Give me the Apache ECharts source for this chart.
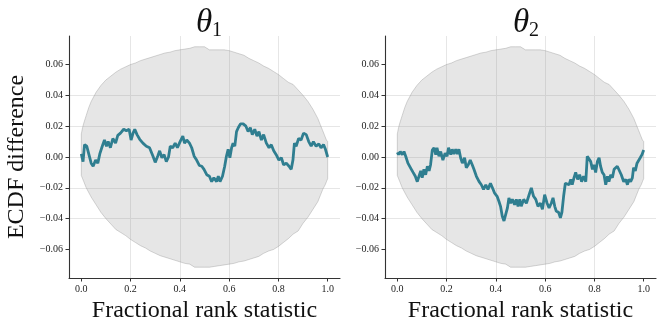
<!DOCTYPE html>
<html>
<head>
<meta charset="utf-8">
<script src="https://cdn.jsdelivr.net/npm/echarts@6.0.0/dist/echarts.min.js"></script>
<style>
html,body{margin:0;padding:0;background:#fff;}
#main{width:664px;height:329px;}
</style>
</head>
<body>
<div id="main"></div>
<script>
// tick labels
var xTicks = [0, 0.2, 0.4, 0.6, 0.8, 1.0];
var yTicks = [-0.06, -0.04, -0.02, 0, 0.02, 0.04, 0.06];
var panelTitles = ['θ', 'θ'];
var panelSubs = ['1', '2'];

// simultaneous confidence band (same for both panels)
var bandX = [0.000,0.005,0.010,0.020,0.030,0.040,0.060,0.080,0.10,0.12,0.14,0.16,0.18,0.20,0.22,0.24,0.26,0.28,0.30,0.32,0.34,0.36,0.38,0.40,
  0.42,0.44,0.46,0.48,0.50,0.52,0.54,0.56,0.58,0.60,0.62,0.64,0.66,0.68,0.70,0.72,0.74,0.76,0.78,0.80,
  0.82,0.84,0.86,0.88,0.90,0.92,0.94,0.96,0.97,0.98,0.99,0.995,1.000];
var bandUpper = [0.015,0.019,0.022,0.027,0.032,0.036,0.042,0.0465,0.050,0.0525,0.055,0.057,0.0585,0.060,0.061,0.0625,0.0635,0.0645,0.0655,0.0665,0.0675,0.068,0.069,0.0695,
  0.070,0.0705,0.0715,0.0715,0.0715,0.0695,0.0695,0.0695,0.0695,0.069,0.068,0.067,0.066,0.064,0.0625,0.061,0.059,0.0575,0.0555,0.0535,
  0.051,0.0485,0.047,0.0435,0.040,0.036,0.031,0.025,0.021,0.017,0.013,0.011,0.010];
var bandLower = [-0.012,-0.014,-0.016,-0.020,-0.023,-0.026,-0.031,-0.036,-0.040,-0.0435,-0.047,-0.049,-0.051,-0.0535,-0.0555,-0.0575,-0.059,-0.061,-0.0625,-0.064,-0.065,-0.066,-0.067,-0.068,
  -0.069,-0.0695,-0.0715,-0.0715,-0.0715,-0.0715,-0.071,-0.0705,-0.070,-0.0695,-0.069,-0.068,-0.0675,-0.0665,-0.0655,-0.0645,-0.0625,-0.061,-0.060,-0.058,
  -0.0555,-0.053,-0.050,-0.048,-0.043,-0.039,-0.034,-0.029,-0.025,-0.021,-0.018,-0.016,-0.014];

// ECDF difference, theta_1
var theta1 = [[0.000,0.002],[0.007,-0.003],[0.013,0.008],[0.022,0.007],[0.031,0.0015],[0.040,-0.004],[0.048,-0.006],[0.058,-0.002],
  [0.067,-0.004],[0.075,0.002],[0.085,0.007],[0.094,0.011],[0.102,0.007],[0.109,0.010],[0.118,0.006],[0.128,0.012],[0.139,0.009],
  [0.148,0.014],[0.159,0.0155],[0.172,0.018],[0.183,0.017],[0.194,0.018],[0.202,0.011],[0.210,0.0155],[0.217,0.018],[0.226,0.0145],
  [0.237,0.0115],[0.250,0.009],[0.264,0.007],[0.277,0.006],[0.291,0.0005],[0.300,-0.0035],[0.310,0.0005],[0.318,0.004],[0.327,-0.0005],
  [0.336,0.0015],[0.345,-0.003],[0.354,0.000],[0.361,0.007],[0.371,0.006],[0.381,0.009],[0.390,0.006],[0.401,0.010],[0.412,0.0135],
  [0.419,0.009],[0.428,0.011],[0.439,0.009],[0.448,0.006],[0.458,0.0005],[0.468,-0.002],[0.479,-0.0055],[0.489,-0.006],[0.498,-0.008],
  [0.509,-0.0115],[0.520,-0.0125],[0.529,-0.016],[0.538,-0.0135],[0.549,-0.016],[0.556,-0.0125],[0.563,-0.016],[0.573,-0.0125],
  [0.582,-0.006],[0.589,0.0005],[0.596,0.005],[0.603,-0.0005],[0.610,0.006],[0.616,0.009],[0.623,0.007],[0.630,0.0165],[0.637,0.019],
  [0.646,0.0215],[0.657,0.0215],[0.668,0.020],[0.677,0.0165],[0.686,0.019],[0.694,0.0145],[0.704,0.018],[0.713,0.0135],[0.721,0.0165],
  [0.731,0.011],[0.740,0.0145],[0.751,0.009],[0.762,0.006],[0.771,0.008],[0.781,0.004],[0.791,0.0015],[0.802,-0.002],[0.812,-0.0005],
  [0.821,-0.005],[0.832,-0.004],[0.843,-0.006],[0.852,-0.008],[0.859,-0.002],[0.865,0.009],[0.872,0.007],[0.882,0.012],[0.892,0.011],
  [0.902,0.0155],[0.913,0.0145],[0.923,0.010],[0.933,0.007],[0.942,0.010],[0.953,0.007],[0.964,0.0085],[0.973,0.006],[0.983,0.008],
  [0.991,0.005],[1.000,0.000]];

// ECDF difference, theta_2
var theta2 = [[0.000,0.003],[0.005,0.0015],[0.012,0.0035],[0.020,0.0015],[0.027,0.0035],[0.034,0.0005],[0.043,-0.004],[0.050,-0.005],
  [0.057,-0.008],[0.064,-0.010],[0.073,-0.0125],[0.081,-0.016],[0.088,-0.0125],[0.095,-0.009],[0.101,-0.0135],[0.108,-0.008],
  [0.115,-0.0115],[0.122,-0.006],[0.129,-0.009],[0.135,-0.005],[0.142,0.0045],[0.149,0.006],[0.156,0.0015],[0.161,0.006],[0.169,0.0005],
  [0.176,0.0035],[0.185,-0.002],[0.194,0.0025],[0.202,0.0005],[0.208,0.006],[0.217,0.0015],[0.223,0.005],[0.230,0.002],[0.237,0.005],
  [0.244,0.002],[0.250,0.005],[0.257,-0.0005],[0.264,-0.004],[0.273,-0.0005],[0.280,-0.007],[0.288,-0.005],[0.296,-0.002],[0.304,-0.005],
  [0.311,-0.008],[0.321,-0.0125],[0.332,-0.016],[0.341,-0.018],[0.350,-0.021],[0.359,-0.018],[0.368,-0.021],[0.378,-0.017],[0.386,-0.020],
  [0.395,-0.0235],[0.405,-0.0255],[0.413,-0.029],[0.419,-0.032],[0.426,-0.0385],[0.433,-0.0415],[0.440,-0.0405],[0.447,-0.033],
  [0.453,-0.0265],[0.460,-0.030],[0.467,-0.0275],[0.476,-0.031],[0.483,-0.0275],[0.490,-0.032],[0.497,-0.0275],[0.503,-0.032],
  [0.513,-0.0275],[0.524,-0.030],[0.535,-0.0245],[0.544,-0.020],[0.553,-0.0255],[0.562,-0.0275],[0.571,-0.032],[0.581,-0.030],
  [0.589,-0.034],[0.598,-0.0245],[0.608,-0.030],[0.616,-0.033],[0.625,-0.030],[0.632,-0.0265],[0.639,-0.032],[0.645,-0.035],
  [0.655,-0.036],[0.662,-0.0395],[0.668,-0.036],[0.675,-0.0255],[0.682,-0.017],[0.689,-0.016],[0.697,-0.018],[0.704,-0.0145],
  [0.710,-0.018],[0.717,-0.0135],[0.724,-0.010],[0.732,-0.0145],[0.740,-0.0115],[0.748,-0.016],[0.756,-0.0125],[0.765,-0.016],
  [0.771,0.0005],[0.778,0.0015],[0.785,-0.003],[0.792,-0.008],[0.798,-0.005],[0.805,-0.010],[0.812,-0.003],[0.819,-0.0005],
  [0.825,-0.006],[0.832,-0.010],[0.839,-0.0115],[0.846,-0.018],[0.853,-0.0125],[0.859,-0.016],[0.866,-0.0115],[0.873,-0.0135],
  [0.880,-0.008],[0.886,-0.009],[0.893,-0.006],[0.900,-0.007],[0.909,-0.0115],[0.919,-0.016],[0.927,-0.0145],[0.934,-0.018],
  [0.940,-0.0145],[0.947,-0.016],[0.954,-0.0135],[0.959,-0.007],[0.966,-0.009],[0.973,-0.004],[0.981,-0.005],[0.986,-0.0005],
  [0.993,0.0015],[1.000,0.0045]];

var serif = '"Liberation Serif", "DejaVu Serif", serif';
var spine = '#333';
var teal = '#2f7e90';
var bandFill = 'rgba(128,128,128,0.2)';
var bandEdge = 'rgba(140,140,140,0.45)';

var chart = echarts.init(document.getElementById('main'));

function xAx(idx) {
  return {
    type: 'value', gridIndex: idx, min: -0.05, max: 1.05,
    axisLine: {onZero: false, lineStyle: {color: spine, width: 1.1}},
    axisTick: {customValues: xTicks, length: 3.5, lineStyle: {color: spine}},
    axisLabel: {customValues: xTicks, formatter: function (v) { return v.toFixed(1); },
      fontFamily: serif, fontSize: 10, color: '#222', margin: 6},
    splitLine: {show: true, showMinLine: false, showMaxLine: false, lineStyle: {color: '#e6e6e6', width: 1}},
    name: 'Fractional rank statistic', nameLocation: 'middle', nameGap: 18,
    nameTextStyle: {fontFamily: serif, fontSize: 24, color: '#111'}
  };
}

function yAx(idx) {
  var ax = {
    type: 'value', gridIndex: idx, min: -0.0785, max: 0.0785,
    axisLine: {show: true, onZero: false, lineStyle: {color: spine, width: 1.1}},
    axisTick: {show: true, customValues: yTicks, length: 3.5, lineStyle: {color: spine}},
    axisLabel: {customValues: yTicks, formatter: function (v) { return v.toFixed(2).replace('-', '\u2212'); },
      fontFamily: serif, fontSize: 10, color: '#222', margin: 6},
    splitLine: {show: true, showMinLine: false, showMaxLine: false, lineStyle: {color: '#e6e6e6', width: 1}}
  };
  if (idx === 0) {
    ax.name = 'ECDF difference';
    ax.nameLocation = 'middle';
    ax.nameGap = 40;
    ax.nameTextStyle = {fontFamily: serif, fontSize: 24, color: '#111'};
  }
  return ax;
}

function title(idx, cx) {
  return {
    text: '{t|' + panelTitles[idx] + '}{s|' + panelSubs[idx] + '}',
    left: cx, top: 0, textAlign: 'center',
    textStyle: {
      rich: {
        t: {fontFamily: serif, fontStyle: 'italic', fontWeight: 'normal', fontSize: 33, lineHeight: 36, color: '#111'},
        s: {fontFamily: serif, fontWeight: 'normal', fontSize: 20, lineHeight: 12, verticalAlign: 'bottom', color: '#111'}
      }
    }
  };
}

// band polygon (upper edge forward, lower edge back), placed through the axis scales
function bandSeries(idx) {
  return {
    type: 'custom', xAxisIndex: idx, yAxisIndex: idx, data: [[0, 0]], silent: true, z: 1,
    renderItem: function (params, api) {
      var pts = [], i;
      for (i = 0; i < bandX.length; i++) pts.push(api.coord([bandX[i], bandUpper[i]]));
      for (i = bandX.length - 1; i >= 0; i--) pts.push(api.coord([bandX[i], bandLower[i]]));
      return {type: 'polygon', shape: {points: pts},
        style: {fill: bandFill, stroke: bandEdge, lineWidth: 0.8}};
    }
  };
}

var option = {
  animation: false,
  backgroundColor: '#fff',
  title: [title(0, 204), title(1, 521)],
  grid: [
    {left: 69, top: 36, width: 271, height: 242},
    {left: 385, top: 36, width: 271, height: 242}
  ],
  xAxis: [xAx(0), xAx(1)],
  yAxis: [yAx(0), yAx(1)],
  series: [
    bandSeries(0),
    bandSeries(1),
    {type: 'line', xAxisIndex: 0, yAxisIndex: 0, data: theta1, symbol: 'none',
      lineStyle: {color: teal, width: 2.8}, z: 3},
    {type: 'line', xAxisIndex: 1, yAxisIndex: 1, data: theta2, symbol: 'none',
      lineStyle: {color: teal, width: 2.8}, z: 3}
  ]
};

chart.setOption(option);
</script>
</body>
</html>
